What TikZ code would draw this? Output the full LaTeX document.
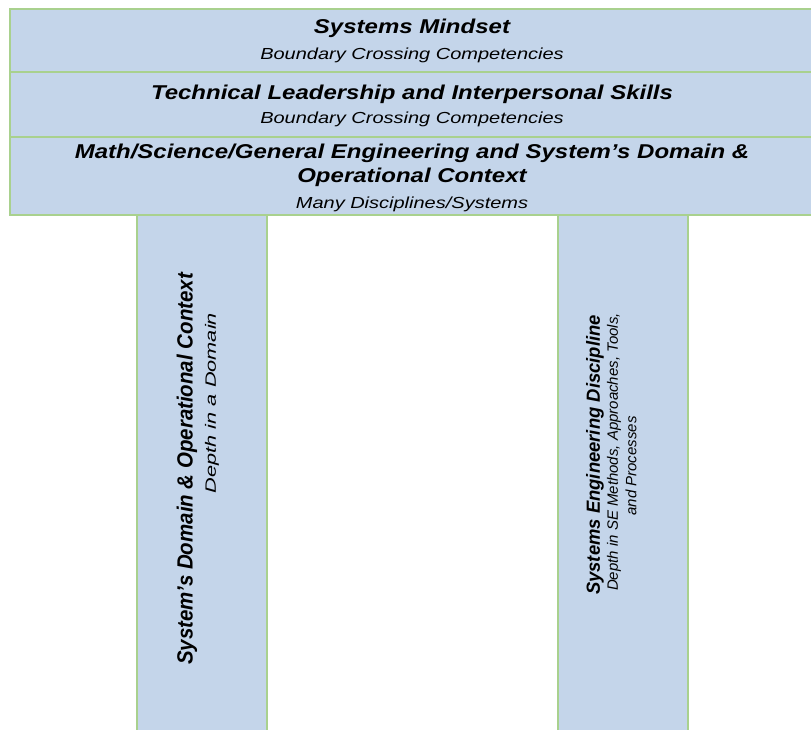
\documentclass[tikz,border=0pt]{standalone}
\usepackage{fontspec}
\setmainfont{Liberation Sans}
\definecolor{bandfill}{HTML}{C4D5EA}
\definecolor{bandline}{HTML}{A9D18E}
% sizes and widths of the text faces used below
\newcommand{\headface}{\fontsize{20}{24}\selectfont\bfseries\itshape\addfontfeature{FakeStretch=1.2}}
\newcommand{\subface}{\fontsize{16}{19}\selectfont\itshape\addfontfeature{FakeStretch=1.25}}
\begin{document}
\begin{tikzpicture}[x=1pt,y=-1pt,
  band/.style={draw=bandline, fill=bandfill, line width=1.8pt},
  head/.style={font=\headface, inner sep=0pt, anchor=base},
  sub/.style={font=\subface, inner sep=0pt, anchor=base},
  upright/.style={rotate=90, inner sep=0pt}]
\useasboundingbox (0,0) rectangle (811,729);
% pillars (drawn first so the bottom band covers their tops)
\draw[band] (137,214) rectangle (267,745);
\draw[band] (558,214) rectangle (688,745);
% stacked horizontal bands
\draw[band] (10,9) rectangle (822,72);
\draw[band] (10,72) rectangle (822,137);
\draw[band] (10,137) rectangle (822,215);
% band texts
\node[head] (mindset) at (412,33) {Systems Mindset};
\node[sub] (mindsetsub) at (412,59) {Boundary Crossing Competencies};
\node[head] (leader) at (412,99) {Technical Leadership and Interpersonal Skills};
\node[sub] (leadersub) at (412,123) {Boundary Crossing Competencies};
\node[head] (mathA) at (412,158) {Math/Science/General Engineering and System's Domain \&};
\node[head] (mathB) at (412,182) {Operational Context};
\node[sub] (mathsub) at (412,208) {Many Disciplines/Systems};
% pillar texts
\node[upright, font=\fontsize{22}{26}\selectfont\bfseries\itshape\addfontfeature{FakeStretch=0.93}] (domain) at (187,469) {System's Domain \& Operational Context};
\node[upright, font=\fontsize{15}{18}\selectfont\itshape\addfontfeature{FakeStretch=1.45}] (domainsub) at (212,403) {Depth in a Domain};
\node[upright, font=\fontsize{19}{23}\selectfont\bfseries\itshape\addfontfeature{FakeStretch=0.97}] (sed) at (595,455) {Systems Engineering Discipline};
\node[upright, font=\fontsize{15}{18}\selectfont\itshape\addfontfeature{FakeStretch=1.0}] (sedsubA) at (614,452) {Depth in SE Methods, Approaches, Tools,};
\node[upright, font=\fontsize{15}{18}\selectfont\itshape\addfontfeature{FakeStretch=1.0}] (sedsubB) at (631,466) {and Processes};
\end{tikzpicture}
\end{document}
